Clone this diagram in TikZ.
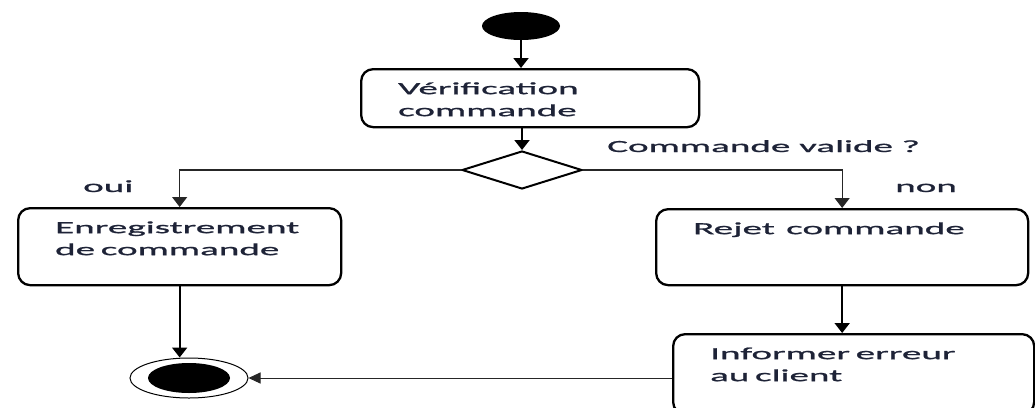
\documentclass[tikz,border=0pt]{standalone}
\usepackage{fontspec}
\setmainfont{Carlito}[FakeStretch=2.3,FakeBold=1.2]
\usetikzlibrary{shapes.geometric,arrows.meta}
\definecolor{txtc}{RGB}{30,35,55}
\begin{document}
\begin{tikzpicture}[x=1pt,y=-1pt,
  font=\fontsize{17}{22}\selectfont,
  act/.style={rectangle,rounded corners=12pt,draw,line width=2.3pt,anchor=north west,
    align=left,inner xsep=37pt,inner ysep=0pt,text height=25pt,text=txtc},
  lbl/.style={anchor=base west,inner sep=0pt,text=txtc},
  flow/.style={-{Triangle[width=15pt,length=10pt]},line width=2pt},
  thin flow/.style={-{Triangle[width=15pt,length=10pt]},line width=1.2pt,black!85}]
\clip (0,0) rectangle (1035,407);
% initial and final states
\node (start)[ellipse,fill,minimum width=78pt,minimum height=28pt,inner sep=0pt] at (521,26) {};
\node (fin)[ellipse,draw,line width=1pt,minimum width=118pt,minimum height=40pt,inner sep=0pt] at (189,378) {};
\node (finin)[ellipse,fill,minimum width=82pt,minimum height=30pt,inner sep=0pt] at (fin) {};
% activities
\node (verif)[act,text width=264pt,text depth=33pt] at (360,68) {Vérification\\commande};
\node (dec)[diamond,draw,line width=2pt,minimum width=120pt,minimum height=38pt,inner sep=0pt] at (522,170) {};
\node (enreg)[act,text width=249pt,text depth=52pt] at (17,207) {Enregistrement\\de commande};
\node (rejet)[act,text width=298pt,text depth=51pt] at (655,208) {Rejet\ \ commande};
\node (inform)[act,text width=287pt,text depth=55pt] at (672,333) {Informer erreur\\au client};
% guards
\node (guard)[lbl] at (607,152) {Commande valide ?};
\node (oui)[lbl] at (83,192) {oui};
\node (non)[lbl] at (895,192) {non};
% transitions
\draw[flow] (start.south) -- (start.south |- verif.north);
\draw[flow] (dec.north |- verif.south) -- (dec.north);
\draw[thin flow] (dec.west) -| (enreg.north);
\draw[thin flow] (dec.east) -| (rejet.north);
\draw[flow] (enreg.south) -- (enreg.south |- fin.north);
\draw[flow] (rejet.south) -- (rejet.south |- inform.north);
\draw[-{Triangle[width=11pt,length=12pt]},line width=1pt,black!85] (inform.west |- fin.east) -- (fin.east);
\end{tikzpicture}
\end{document}
